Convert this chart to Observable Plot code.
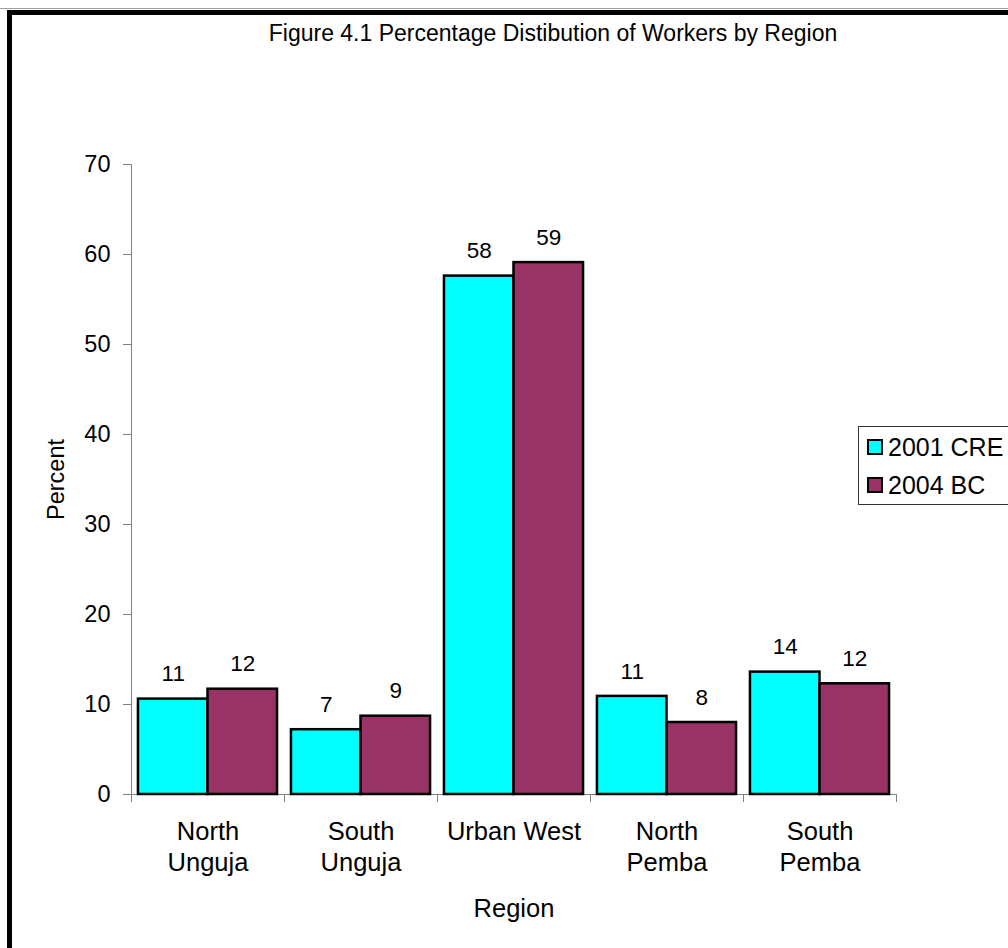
<!DOCTYPE html>
<html>
<head>
<meta charset="utf-8">
<script src="https://cdn.jsdelivr.net/npm/d3@7"></script>
<script src="https://cdn.jsdelivr.net/npm/@observablehq/plot@0.6"></script>
<style>
  html, body { margin: 0; padding: 0; background: #fff; overflow: hidden; }
  #page { position: relative; width: 1008px; height: 948px; overflow: hidden; font-family: "Liberation Sans", Arial, sans-serif; color: #000; }
  #topline { position: absolute; left: 0; top: 8px; width: 1008px; height: 1px; background: #a0a0a0; }
  #border { position: absolute; left: 7px; top: 10px; width: 1200px; height: 1200px; border-left: 5px solid #000; border-top: 5px solid #000; }
  #title { position: absolute; left: 49px; top: 19px; width: 1008px; text-align: center; font-size: 23px; line-height: 28px; }
  #chart { position: absolute; left: 0; top: 0; }
  #legend { position: absolute; left: 858px; top: 426px; width: 300px; height: 77px; border: 1px solid #333; background: #fff; }
  .item { position: absolute; left: 8px; height: 28px; font-size: 25px; line-height: 28px; white-space: nowrap; }
  .swatch { display: inline-block; width: 12px; height: 12px; border: 2px solid #000; vertical-align: top; margin-top: 6px; margin-right: 5px; }
</style>
</head>
<body>
<div id="page">
  <div id="topline"></div>
  <div id="border"></div>
  <div id="chart"></div>
  <div id="title">Figure 4.1 Percentage Distibution of Workers by Region</div>
  <div id="legend"></div>
</div>
<script>
// Regions on the category axis, with their two-line tick labels
const regions = ["North Unguja", "South Unguja", "Urban West", "North Pemba", "South Pemba"];
const regionLabels = ["North\nUnguja", "South\nUnguja", "Urban West", "North\nPemba", "South\nPemba"];

// Survey series and their colours
const series = ["2001 CRE", "2004 BC"];
const seriesColors = ["#00ffff", "#993366"];

// Percentage of workers per region
const cre2001 = [10.6, 7.2, 57.6, 10.9, 13.6];
const bc2004 = [11.7, 8.7, 59.1, 8.0, 12.3];

// Percent axis ticks
const yTicks = [0, 10, 20, 30, 40, 50, 60, 70];

const rows = regions.flatMap((region, i) => [
  {region, series: series[0], value: cre2001[i]},
  {region, series: series[1], value: bc2004[i]}
]);

const W = 1008, H = 948;
const mL = 131, mR = 112, mT = 164, mB = 154;
const xPadOuter = 0.1;
// distance from a series band centre to the edge of its region band
const facetW = (W - mL - mR) / regions.length;
const step = facetW / (series.length + 2 * xPadOuter);
const edge = step * (0.5 + xPadOuter);
const axisGray = "#808080";

const chart = Plot.plot({
  width: W,
  height: H,
  marginLeft: mL,
  marginRight: mR,
  marginTop: mT,
  marginBottom: mB,
  style: {fontFamily: "'Liberation Sans', Arial, sans-serif", fontSize: "23px", color: "#000", background: "transparent", overflow: "visible"},
  fx: {domain: regions, padding: 0, round: false, axis: null},
  x: {domain: series, paddingInner: 0, paddingOuter: xPadOuter, round: false, axis: null},
  y: {domain: [0, 70], axis: null},
  color: {domain: series, range: seriesColors},
  marks: [
    Plot.axisY({
      ticks: yTicks, tickSize: 8, tickPadding: 13, stroke: axisGray,
      fontSize: 23.5, label: "Percent", labelAnchor: "center", labelOffset: 84, labelArrow: "none"
    }),
    Plot.axisFx({
      anchor: "bottom", tickSize: 0, tickPadding: 23, fontSize: 25.5, lineHeight: 1.22,
      tickFormat: d => regionLabels[regions.indexOf(d)],
      label: "Region", labelAnchor: "center", labelOffset: 122, labelArrow: "none"
    }),
    // horizontal category axis line
    Plot.ruleY([0], {stroke: axisGray}),
    // vertical value axis line
    Plot.ruleX([regions[0]], {fx: d => d, x: () => series[0], dx: -edge, y1: 0, y2: 70, stroke: axisGray}),
    // category boundary ticks
    Plot.ruleX(regions, {fx: d => d, x: () => series[0], dx: -edge, y1: 0, y2: 0, insetBottom: -8, stroke: axisGray}),
    Plot.ruleX([regions[regions.length - 1]], {fx: d => d, x: () => series[1], dx: edge, y1: 0, y2: 0, insetBottom: -8, stroke: axisGray}),
    Plot.barY(rows, {fx: "region", x: "series", y: "value", fill: "series", stroke: "#000", strokeWidth: 2.5}),
    Plot.text(rows, {fx: "region", x: "series", y: "value", text: d => d3.format(".0f")(d.value), dy: -25, fontSize: 22.5, fill: "#000"})
  ]
});
document.getElementById("chart").appendChild(chart);

// legend
const legend = document.getElementById("legend");
series.forEach((s, i) => {
  const item = document.createElement("div");
  item.className = "item";
  item.style.top = (i === 0 ? 6 : 44) + "px";
  const sw = document.createElement("span");
  sw.className = "swatch";
  sw.style.background = seriesColors[i];
  item.appendChild(sw);
  item.appendChild(document.createTextNode(s));
  legend.appendChild(item);
});
</script>
</body>
</html>
